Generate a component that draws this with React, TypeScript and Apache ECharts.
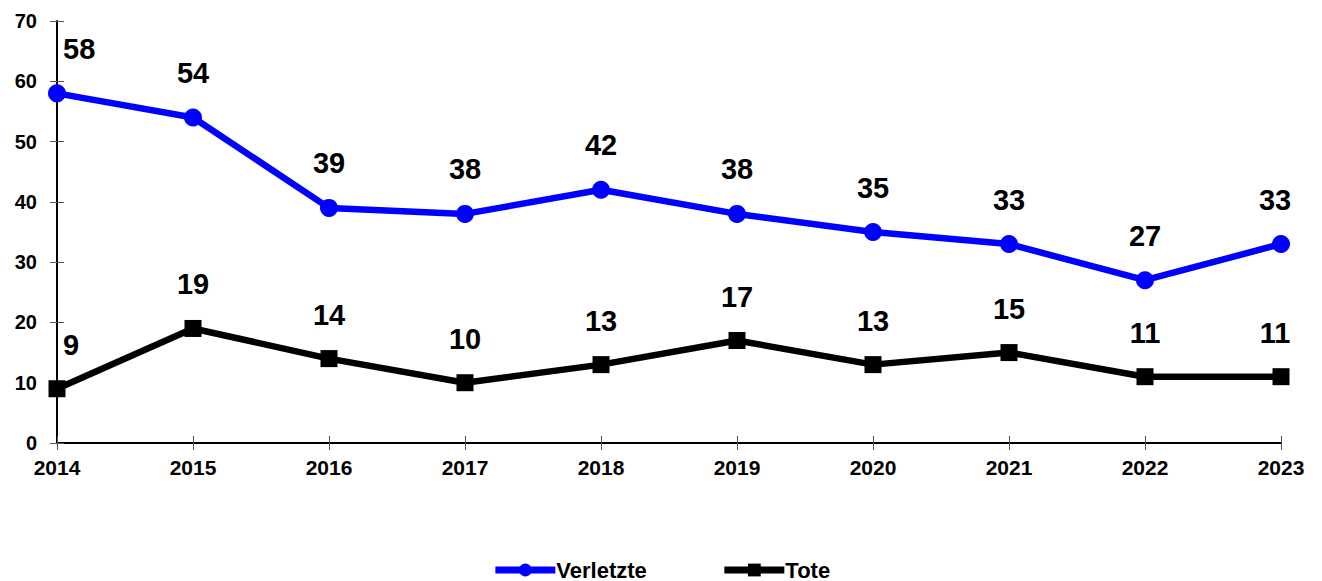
import React, { useEffect, useRef } from "react";
import * as echarts from "echarts";

const years = ["2014", "2015", "2016", "2017", "2018", "2019", "2020", "2021", "2022", "2023"];
const verletzte = [58, 54, 39, 38, 42, 38, 35, 33, 27, 33];
const tote = [9, 19, 14, 10, 13, 17, 13, 15, 11, 11];

const FONT = "'Liberation Sans', Arial, sans-serif";

function withLabels(values: number[]) {
  return values.map((v, i) => {
    const item: any = { value: v };
    if (i === 0) item.label = { align: "left", offset: [6, 0] };
    if (i === values.length - 1) item.label = { offset: [-6, 0] };
    return item;
  });
}

export default function App() {
  const ref = useRef<HTMLDivElement>(null);
  useEffect(() => {
    const chart = echarts.init(ref.current!, null, { renderer: "svg" });
    const labelStyle = {
      show: true,
      position: "top" as const,
      distance: 21,
      fontFamily: FONT,
      fontWeight: "bold" as const,
      fontSize: 29,
      color: "#000",
    };
    chart.setOption({
      animation: false,
      textStyle: { fontFamily: FONT },
      grid: { left: 49, right: 33, top: 13, bottom: 145, containLabel: false },
      legend: {
        top: 546,
        left: "center",
        itemWidth: 60,
        itemHeight: 16,
        itemGap: 74,
        lineStyle: { width: 7 },
        textStyle: { fontFamily: FONT, fontWeight: "bold", fontSize: 22, color: "#000", padding: [0, 0, 0, -4] },
        data: ["Verletzte", "Tote"],
      },
      xAxis: [
        {
          type: "category",
          data: years,
          boundaryGap: false,
          axisLine: { lineStyle: { color: "#000", width: 2 } },
          axisTick: { show: true, length: 7, lineStyle: { color: "#555", width: 1 } },
          axisLabel: { fontFamily: FONT, fontWeight: "bold", fontSize: 21, color: "#000", margin: 14 },
        },
        {
          type: "category",
          data: years,
          boundaryGap: false,
          position: "bottom",
          axisLine: { show: false },
          axisTick: { show: true, inside: true, length: 7, lineStyle: { color: "#555", width: 1 } },
          axisLabel: { show: false },
        },
      ],
      yAxis: [
        {
          type: "value",
          min: 0,
          max: 70,
          interval: 10,
          splitLine: { show: false },
          axisLine: { show: true, lineStyle: { color: "#000", width: 2 } },
          axisTick: { show: true, length: 7, lineStyle: { color: "#555", width: 1 } },
          axisLabel: { fontFamily: FONT, fontWeight: "bold", fontSize: 20, color: "#000", margin: 20 },
        },
        {
          type: "value",
          min: 0,
          max: 70,
          interval: 10,
          position: "left",
          splitLine: { show: false },
          axisLine: { show: false },
          axisTick: { show: true, inside: true, length: 7, lineStyle: { color: "#555", width: 1 } },
          axisLabel: { show: false },
        },
      ],
      series: [
        {
          name: "Verletzte",
          type: "line",
          data: withLabels(verletzte),
          symbol: "circle",
          symbolSize: 18,
          lineStyle: { color: "#0000ff", width: 6.5 },
          itemStyle: { color: "#0000ff" },
          label: labelStyle,
          z: 3,
        },
        {
          name: "Tote",
          type: "line",
          data: withLabels(tote),
          symbol: "rect",
          symbolSize: 17,
          lineStyle: { color: "#000", width: 6.5 },
          itemStyle: { color: "#000" },
          label: labelStyle,
          z: 3,
        },
      ],
    });
    return () => chart.dispose();
  }, []);
  return <div ref={ref} style={{ width: 1306, height: 580 }} />;
}
